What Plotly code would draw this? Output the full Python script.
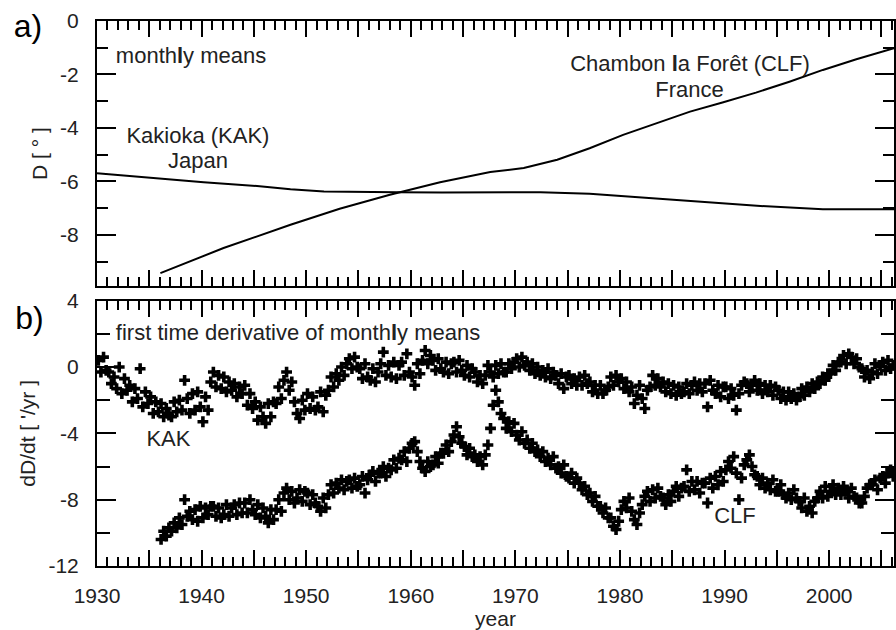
import plotly.graph_objects as go

# ---------------------------------------------------------------- data
# (a) monthly-mean declination D [deg]
KAK_YEARS = [1930.0, 1935.75, 1940.2, 1945.3, 1948.5, 1951.7, 1954.9, 1958.7,
             1963.0, 1967.6, 1972.4, 1977.1, 1981.9, 1986.7, 1993.1, 1999.4, 2006.2]
KAK_D = [-5.69, -5.88, -6.03, -6.17, -6.29, -6.38, -6.40, -6.40,
         -6.41, -6.40, -6.40, -6.46, -6.60, -6.75, -6.91, -7.04, -7.04]

CLF_YEARS = [1936.06, 1942.1, 1948.5, 1953.2, 1958.0, 1962.8, 1967.6, 1970.8,
             1974.0, 1977.1, 1980.3, 1983.5, 1986.7, 1989.8, 1993.0, 1996.2,
             1999.4, 2002.6, 2006.2]
CLF_D = [-9.43, -8.49, -7.62, -7.02, -6.50, -6.03, -5.65, -5.50,
         -5.19, -4.76, -4.26, -3.82, -3.39, -3.05, -2.68, -2.27,
         -1.83, -1.43, -1.02]

# (b) first time derivative dD/dt ['/yr], quarterly samples
KAK_T0 = 1930.125
CLF_T0 = 1936.125
STEP = 0.25

KAK_DDT = [
    0.4, -0.3, 0.6, -0.2,      # 1930
    -0.3, -1.0, -0.6, -1.3,    # 1931
    0.0, -1.6, -0.7, -1.4,     # 1932
    -1.1, -2.1, -1.3, -1.9,    # 1933
    -0.1, -2.4, -1.5, -2.2,    # 1934
    -1.8, -2.8, -2.1, -2.7,    # 1935
    -2.2, -3.0, -2.5, -2.9,    # 1936
    -3.0, -2.1, -2.7, -2.0,    # 1937
    -2.6, -0.8, -1.9, -2.8,    # 1938
    -1.6, -2.6, -1.5, -2.4,    # 1939
    -3.3, -1.8, -2.6, -0.9,    # 1940
    -0.3, -1.2, -0.5, -1.3,    # 1941
    -0.6, -1.5, -0.9, -1.4,    # 1942
    -1.0, -1.8, -1.2, -1.6,    # 1943
    -1.1, -2.3, -1.6, -2.5,    # 1944
    -2.1, -3.2, -2.4, -3.0,    # 1945
    -3.4, -2.2, -3.0, -2.1,    # 1946
    -2.2, -1.2, -1.9, -0.8,    # 1947
    -0.3, -1.4, -0.9, -2.1,    # 1948
    -2.8, -3.1, -2.0, -2.6,    # 1949
    -1.6, -2.5, -1.8, -2.6,    # 1950
    -2.4, -1.5, -2.7, -1.7,    # 1951
    -1.4, -0.6, -1.2, -0.4,    # 1952
    -0.8, 0.0, -0.5, 0.2,      # 1953
    0.5, -0.1, 0.6, 0.0,       # 1954
    -0.1, -0.7, 0.2, -0.6,     # 1955
    -0.8, -0.1, -0.9, -0.3,    # 1956
    0.2, 0.9, -0.5, 0.1,       # 1957
    -0.6, 0.3, -0.7, 0.1,      # 1958
    0.3, -0.5, 0.8, -0.3,      # 1959
    -0.6, -1.1, 0.2, -0.4,     # 1960
    0.4, 1.0, 0.2, 0.7,        # 1961
    0.4, -0.2, 0.5, -0.1,      # 1962
    -0.3, 0.3, -0.4, 0.2,      # 1963
    0.3, -0.3, 0.4, -0.2,      # 1964
    -0.5, 0.1, -0.6, -0.1,     # 1965
    -0.3, -0.9, -0.5, -1.0,    # 1966
    -0.5, 0.1, -0.3, -0.6,     # 1967
    0.1, -0.4, 0.2, -0.3,      # 1968
    -0.3, 0.2, -0.1, 0.3,      # 1969
    0.5, 0.0, 0.6, 0.1,        # 1970
    0.3, -0.2, 0.2, -0.4,      # 1971
    0.0, -0.5, -0.2, -0.6,     # 1972
    -0.1, -0.7, -0.3, -0.5,    # 1973
    -1.0, -0.4, -1.3, -0.6,    # 1974
    -0.5, -1.0, -0.7, -1.1,    # 1975
    -0.6, -1.1, -0.5, -1.0,    # 1976
    -0.9, -1.5, -1.1, -1.6,    # 1977
    -1.1, -1.6, -1.4, -1.2,    # 1978
    -0.6, -1.1, -0.5, -0.9,    # 1979
    -0.7, -1.3, -0.9, -1.5,    # 1980
    -1.2, -2.2, -1.7, -1.1,    # 1981
    -1.9, -2.5, -1.4, -1.2,    # 1982
    -0.5, -1.1, -0.7, -1.2,    # 1983
    -0.9, -1.5, -1.0, -1.6,    # 1984
    -1.1, -1.7, -1.2, -1.6,    # 1985
    -1.5, -1.0, -1.6, -1.1,    # 1986
    -0.9, -1.4, -1.0, -1.5,    # 1987
    -1.0, -2.4, -0.8, -1.4,    # 1988
    -1.6, -1.1, -1.8, -1.2,    # 1989
    -1.2, -1.9, -1.3, -1.7,    # 1990
    -2.6, -1.6, -1.1, -0.9,    # 1991
    -1.0, -1.5, -1.1, -0.8,    # 1992
    -1.4, -1.0, -1.6, -1.1,    # 1993
    -1.5, -1.1, -1.7, -1.2,    # 1994
    -1.4, -1.9, -1.5, -2.0,    # 1995
    -1.5, -1.9, -1.6, -2.0,    # 1996
    -1.8, -1.3, -1.7, -1.2,    # 1997
    -1.5, -1.0, -1.3, -0.9,    # 1998
    -1.0, -0.6, -0.8, -0.4,    # 1999
    -0.4, 0.1, -0.2, 0.3,      # 2000
    0.3, 0.7, 0.2, 0.8,        # 2001
    0.6, 0.2, 0.5, 0.0,        # 2002
    -0.1, -0.6, -0.2, -0.7,    # 2003
    -0.3, 0.2, -0.4, 0.1,      # 2004
    0.3, -0.2, 0.4, -0.1,      # 2005
    0.1,                       # 2006
]

CLF_DDT = [
    -10.4, -9.9, -10.2, -9.7,   # 1936
    -9.9, -9.4, -9.7, -9.1,     # 1937
    -9.5, -8.0, -9.0, -8.7,     # 1938
    -9.2, -8.6, -9.3, -8.4,     # 1939
    -9.1, -8.5, -8.9, -8.4,     # 1940
    -8.4, -9.0, -8.5, -9.1,     # 1941
    -8.9, -8.3, -9.0, -8.5,     # 1942
    -8.3, -8.9, -8.2, -8.8,     # 1943
    -8.2, -8.8, -8.0, -8.6,     # 1944
    -8.9, -8.3, -9.1, -8.5,     # 1945
    -9.0, -9.4, -8.6, -9.2,     # 1946
    -8.6, -8.0, -8.7, -7.6,     # 1947
    -7.3, -8.0, -7.5, -8.2,     # 1948
    -7.9, -7.4, -8.1, -7.5,     # 1949
    -7.6, -8.3, -7.7, -8.2,     # 1950
    -8.4, -8.7, -7.9, -8.5,     # 1951
    -7.7, -7.1, -7.6, -7.0,     # 1952
    -7.3, -6.8, -7.4, -6.9,     # 1953
    -6.8, -7.3, -6.7, -7.2,     # 1954
    -7.1, -6.6, -7.6, -6.8,     # 1955
    -6.5, -6.3, -6.9, -6.4,     # 1956
    -6.4, -6.0, -6.6, -6.1,     # 1957
    -6.2, -5.6, -6.1, -5.5,     # 1958
    -5.6, -5.1, -5.7, -4.9,     # 1959
    -4.6, -4.5, -5.1, -5.7,     # 1960
    -6.1, -6.3, -5.7, -6.0,     # 1961
    -5.9, -5.4, -5.8, -5.2,     # 1962
    -5.2, -4.7, -5.1, -4.5,     # 1963
    -4.1, -3.6, -4.2, -4.6,     # 1964
    -4.8, -5.3, -4.9, -5.4,     # 1965
    -5.3, -5.7, -5.4, -5.9,     # 1966
    -5.3, -4.7, -3.7, -2.3,     # 1967
    -1.4, -2.1, -2.8, -3.1,     # 1968
    -3.7, -3.3, -3.9, -3.4,     # 1969
    -4.1, -4.4, -3.9, -4.6,     # 1970
    -4.4, -4.9, -4.6, -5.1,     # 1971
    -5.0, -5.4, -5.1, -5.7,     # 1972
    -5.5, -5.9, -5.4, -6.1,     # 1973
    -6.0, -6.4, -5.9, -6.6,     # 1974
    -6.7, -6.4, -7.0, -6.7,     # 1975
    -7.0, -7.4, -7.2, -7.7,     # 1976
    -7.6, -8.1, -7.8, -8.4,     # 1977
    -8.4, -8.8, -8.5, -9.1,     # 1978
    -9.1, -9.6, -9.8, -9.3,     # 1979
    -8.6, -8.1, -8.5, -7.9,     # 1980
    -8.7, -9.2, -9.5, -8.8,     # 1981
    -8.3, -7.8, -7.5, -8.1,     # 1982
    -7.4, -7.9, -7.3, -7.8,     # 1983
    -7.9, -8.3, -7.7, -8.1,     # 1984
    -7.5, -7.2, -7.8, -7.3,     # 1985
    -7.2, -6.2, -7.5, -6.9,     # 1986
    -7.4, -6.9, -7.6, -7.0,     # 1987
    -7.0, -8.2, -6.7, -7.3,     # 1988
    -6.6, -7.1, -6.3, -6.9,     # 1989
    -6.2, -5.7, -6.1, -5.4,     # 1990
    -6.4, -8.0, -6.7, -5.9,     # 1991
    -5.6, -5.3, -6.0, -6.5,     # 1992
    -6.6, -7.1, -6.7, -7.3,     # 1993
    -7.0, -7.4, -6.8, -7.5,     # 1994
    -7.5, -7.1, -7.7, -7.9,     # 1995
    -7.6, -8.0, -7.4, -7.9,     # 1996
    -8.1, -8.5, -7.9, -8.7,     # 1997
    -8.4, -8.8, -8.1, -7.9,     # 1998
    -7.5, -7.9, -7.2, -7.8,     # 1999
    -7.5, -7.1, -7.7, -7.3,     # 2000
    -7.7, -7.2, -7.5, -7.9,     # 2001
    -7.3, -7.8, -7.9, -8.2,     # 2002
    -8.2, -7.8, -7.3, -7.1,     # 2003
    -7.1, -6.8, -7.4, -6.7,     # 2004
    -6.6, -7.0, -6.4, -6.2,     # 2005
    -6.6,                       # 2006
]

# axis ticks and labels
YEAR_MAJOR = list(range(1930, 2010, 5))
YEAR_TEXT = [str(y) if y % 10 == 0 else "" for y in YEAR_MAJOR]
D_TICKS = [0, -2, -4, -6, -8]
D_MINOR = [-1, -3, -5, -7, -9]
DDT_TICKS = [4, 0, -4, -8, -12]
DDT_MINOR = [2, -2, -6, -10]

# ---------------------------------------------------------------- style
FONT = "Liberation Sans, Arial, sans-serif"
INK = "#222222"
W, H = 896, 630
L, R, TOP, BOT = 96.5, 894.0, 21.0, 566.5   # plot area in pixels
YEAR_RANGE = [1930, 2006.2]


def px(xp):
    return (xp - L) / (R - L)


def py(yp):
    return (BOT - yp) / (BOT - TOP)


def kak_times():
    return [KAK_T0 + STEP * i for i in range(len(KAK_DDT))]


def clf_times():
    return [CLF_T0 + STEP * i for i in range(len(CLF_DDT))]


fig = go.Figure()

# panel a: declination
fig.add_trace(go.Scatter(x=KAK_YEARS, y=KAK_D, mode="lines", xaxis="x2", yaxis="y",
                         line=dict(color="black", width=2)))
fig.add_trace(go.Scatter(x=CLF_YEARS, y=CLF_D, mode="lines", xaxis="x2", yaxis="y",
                         line=dict(color="black", width=2)))

# panel b: secular variation
fig.add_trace(go.Scatter(x=kak_times(), y=KAK_DDT, mode="markers", xaxis="x", yaxis="y2",
                         marker=dict(symbol="cross", size=9, color="black")))
fig.add_trace(go.Scatter(x=clf_times(), y=CLF_DDT, mode="markers", xaxis="x", yaxis="y2",
                         marker=dict(symbol="cross", size=9, color="black")))


def label(texts, xs, ys, axes, size=22, pos="middle center"):
    fig.add_trace(go.Scatter(
        x=xs, y=ys, text=texts, mode="text", textposition=pos,
        xaxis=axes[0], yaxis=axes[1], cliponaxis=False,
        textfont=dict(family=FONT, size=size, color=INK)))


# panel a labels
label(["month<b>l</b>y means"], [1931.8], [-1.35], ("x2", "y"), pos="middle right")
label(["Kakioka (KAK)", "Japan", "Chambon <b>l</b>a Forêt (CLF)", "France"],
      [1939.65, 1939.65, 1986.7, 1986.65], [-4.34, -5.31, -1.68, -2.62], ("x2", "y"))
# panel b labels
label(["first time derivative of month<b>l</b>y means"], [1931.8], [1.96],
      ("x", "y2"), pos="middle right")
label(["KAK", "CLF"], [1936.83, 1990.99], [-4.42, -9.05], ("x", "y2"))

base = dict(showline=True, linecolor="black", linewidth=2, mirror="ticks",
            ticks="inside", tickwidth=2, tickcolor="black",
            showgrid=False, zeroline=False, automargin=False)
xminor = dict(ticks="inside", ticklen=9, tickwidth=2, tickcolor="black",
              dtick=1, tick0=1930)
tfont = dict(family=FONT, size=21, color=INK)
ttl = dict(family=FONT, size=21, color=INK)
letter = dict(family=FONT, size=32, color="black")

fig.update_layout(
    width=W, height=H, showlegend=False,
    margin=dict(l=L, r=W - R, t=TOP, b=H - BOT),
    paper_bgcolor="white", plot_bgcolor="white",
    font=dict(family=FONT, color=INK),
    # panel letter a) sits in the top-left corner of the page
    title=dict(text="a)", font=letter, xref="container", yref="container",
               x=28 / W, y=1 - 26 / H, xanchor="center", yanchor="middle"),
    xaxis=dict(base, domain=[0, 1], anchor="y2", range=YEAR_RANGE,
               ticklen=16, tickvals=YEAR_MAJOR, ticktext=YEAR_TEXT,
               tickfont=tfont, ticklabelstandoff=10, minor=xminor,
               title=dict(text="year", font=ttl, standoff=0)),
    xaxis2=dict(base, domain=[0, 1], anchor="y", range=YEAR_RANGE,
                ticklen=16, tickvals=YEAR_MAJOR, showticklabels=False,
                minor=xminor),
    yaxis=dict(base, domain=[py(286.5), 1], anchor="x2", range=[-9.92, 0],
               ticklen=19, tickvals=D_TICKS, ticktext=[str(v) for v in D_TICKS],
               tickfont=tfont, ticklabelstandoff=12,
               title=dict(text="D [ ° ]", font=ttl, standoff=7),
               minor=dict(tickmode="array", tickvals=D_MINOR, ticks="inside",
                          ticklen=11, tickwidth=2, tickcolor="black")),
    yaxis2=dict(base, domain=[0, py(301.0)], anchor="x", range=[-12, 4],
                ticklen=19, tickvals=DDT_TICKS, ticktext=[str(v) for v in DDT_TICKS],
                tickfont=tfont, ticklabelstandoff=12,
                title=dict(text="dD/dt [ '/yr ]", font=ttl, standoff=7),
                minor=dict(tickmode="array", tickvals=DDT_MINOR, ticks="inside",
                           ticklen=13, tickwidth=2, tickcolor="black")),
)

# panel letter b) beside the lower panel
fig.add_shape(type="rect", xref="paper", yref="paper",
              x0=px(12), x1=px(46), y0=py(332), y1=py(298),
              line=dict(width=0), fillcolor="rgba(0,0,0,0)",
              label=dict(text="b)", font=letter, textposition="middle center"))

fig.write_html("out.html")
